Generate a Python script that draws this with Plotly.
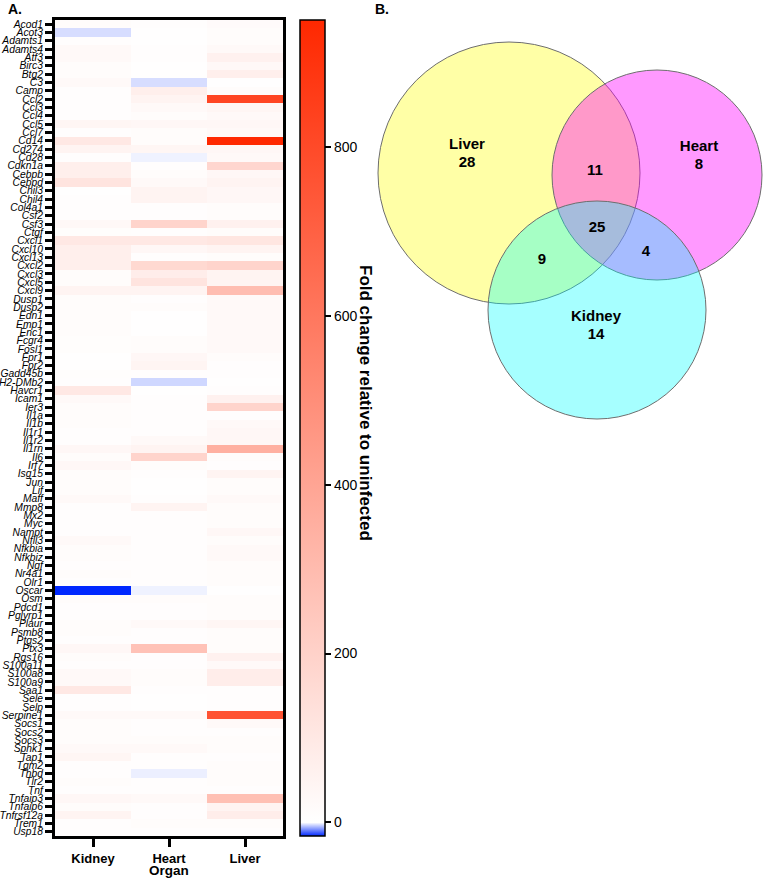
import plotly.graph_objects as go

genes = ["Acod1", "Acot3", "Adamts1", "Adamts4", "Atf3", "Birc3", "Btg2", "C3", "Camp", "Ccl2",
         "Ccl3", "Ccl4", "Ccl5", "Ccl7", "Cd14", "Cd274", "Cd28", "Cdkn1a", "Cebpb", "Cebpd",
         "Chil3", "Chil4", "Col4a1", "Csf2", "Csf3", "Ctgf", "Cxcl1", "Cxcl10", "Cxcl13", "Cxcl2",
         "Cxcl3", "Cxcl5", "Cxcl9", "Dusp1", "Dusp2", "Edn1", "Emp1", "Enc1", "Fcgr4", "Fosl1",
         "Fpr1", "Fpr2", "Gadd45b", "H2-DMb2", "Havcr1", "Icam1", "Ier3", "Il1a", "Il1b", "Il1r1",
         "Il1r2", "Il1rn", "Il6", "Irf7", "Isg15", "Jun", "Lif", "Maff", "Mmp8", "Mx2",
         "Myc", "Nampt", "Nfil3", "Nfkbia", "Nfkbiz", "Ngf", "Nr4a1", "Olr1", "Oscar", "Osm",
         "Pdcd1", "Pglyrp1", "Plaur", "Psmb8", "Ptgs2", "Ptx3", "Rgs16", "S100a11", "S100a8", "S100a9",
         "Saa1", "Sele", "Selp", "Serpine1", "Socs1", "Socs2", "Socs3", "Sphk1", "Tap1", "Tgm2",
         "Thbd", "Tlr2", "Tnf", "Tnfaip3", "Tnfaip6", "Tnfrsf12a", "Trem1", "Usp18"]

organs = ["Kidney", "Heart", "Liver"]

kidney = [15, -2.5, 8, 25, 25, 15, 15, 25, 8, 8,
          8, 8, 40, 8, 100, 50, 8, 70, 70, 120,
          5, 8, 8, 8, 30, 10, 100, 70, 70, 70,
          15, 15, 50, 15, 15, 15, 15, 15, 10, 10,
          5, 5, 10, 8, 100, 25, 15, 15, 15, 8,
          8, 35, 15, 35, 15, 15, 15, 25, 8, 8,
          8, 8, 25, 15, 15, 8, 15, 8, -16, 15,
          8, 8, 15, 15, 8, 35, 15, 8, 25, 25,
          100, 8, 8, 25, 15, 15, 15, 25, 40, 8,
          8, 15, 8, 35, 15, 50, 8, 8]

heart = [8, 5, 5, 8, 8, 5, 5, -2.5, 70, 50,
         25, 15, 35, 15, 15, 40, -1, 8, 15, 25,
         50, 50, 8, 8, 190, 8, 100, 35, 8, 170,
         80, 120, 50, 8, 15, 5, 5, 5, 15, 15,
         35, 45, 8, -3, 5, 8, 8, 8, 8, 8,
         25, 50, 190, 15, 8, 5, 5, 8, 50, 8,
         8, 8, 8, 8, 8, 8, 8, 8, -1, 15,
         8, 8, 25, 8, 8, 270, 8, 8, 15, 15,
         8, 5, 5, 25, 8, 8, 15, 25, 8, 8,
         -1.2, 8, 8, 25, 8, 8, 15, 8]

liver = [20, 15, 15, 25, 60, 30, 70, 5, 15, 820,
         40, 25, 35, 25, 945, 35, 25, 180, 35, 50,
         35, 35, 15, 15, 60, 15, 110, 50, 15, 190,
         50, 50, 290, 25, 25, 25, 25, 25, 25, 25,
         15, 8, 8, 5, 8, 60, 190, 8, 25, 35,
         35, 350, 15, 8, 50, 15, 15, 25, 15, 15,
         15, 35, 15, 25, 25, 15, 15, 15, 5, 15,
         15, 15, 40, 15, 15, 15, 60, 25, 80, 80,
         8, 8, 8, 760, 25, 8, 15, 15, 8, 15,
         15, 15, 8, 280, 50, 80, 15, 8]

cbar_ticks = [0, 200, 400, 600, 800]
zmin, zmax = -16, 950

venn_names = ["Liver", "Heart", "Kidney"]
venn_only = [28, 8, 14]
venn_shared_labels = ["11", "25", "9", "4"]

W, H = 763, 878
FONT = "Liberation Sans, Arial, Helvetica, sans-serif"

z = [[kidney[i], heart[i], liver[i]] for i in range(len(genes))]
p0 = (0 - zmin) / (zmax - zmin)

fig = go.Figure()
fig.add_trace(go.Heatmap(
    z=z, x=organs, y=genes, zmin=zmin, zmax=zmax,
    colorscale=[[0, "rgb(0,40,255)"], [p0, "rgb(255,255,255)"], [1, "rgb(255,40,0)"]],
    colorbar=dict(
        x=300 / W, xanchor="left", y=(H - 836) / H, yanchor="bottom",
        len=816 / H, lenmode="fraction", thickness=25, thicknessmode="pixels",
        xpad=0, ypad=0, outlinewidth=1.5, outlinecolor="black",
        ticks="outside", ticklen=6, tickwidth=1.5, tickcolor="black",
        tickvals=cbar_ticks, tickfont=dict(size=14, color="black", family=FONT),
    ),
))

# heatmap axes
fig.update_layout(
    xaxis=dict(domain=[55 / W, 283 / W], automargin=False, showline=True, linewidth=3,
               linecolor="black", mirror=True, ticks="outside", ticklen=8, tickwidth=3,
               tickcolor="black", tickfont=dict(size=13, color="black", family=FONT, weight="bold"),
               title=dict(text="<b>Organ</b>", font=dict(size=13.5, color="black", family=FONT),
                          standoff=1)),
    yaxis=dict(domain=[(H - 836) / H, (H - 20) / H], automargin=False, autorange="reversed",
               showline=True, linewidth=3, linecolor="black", mirror=True, ticks="outside",
               ticklen=7, tickwidth=2.5, tickcolor="black", dtick=1, ticklabelstandoff=0,
               tickfont=dict(size=10.3, color="black", family=FONT, style="italic")),
    xaxis2=dict(domain=[370 / W, 1], range=[370, W], visible=False, anchor="y2"),
    yaxis2=dict(domain=[0, 1], range=[H, 0], visible=False, anchor="x2"),
)

# venn circles (drawn in pixel-like coordinates)
circles = [
    dict(cx=509, cy=173, r=131, fill="rgba(255,255,0,0.35)"),
    dict(cx=657, cy=175, r=105, fill="rgba(255,0,255,0.4)"),
    dict(cx=597, cy=310, r=109, fill="rgba(0,255,255,0.35)"),
]
for c in circles:
    fig.add_shape(type="circle", xref="x2", yref="y2", layer="below",
                  x0=c["cx"] - c["r"], x1=c["cx"] + c["r"],
                  y0=c["cy"] - c["r"], y1=c["cy"] + c["r"],
                  fillcolor=c["fill"], line=dict(color="rgb(110,110,110)", width=1))

name_pos = [(467, 145), (699, 147), (596, 317)]
count_pos = [(467, 163), (699, 165), (596, 335)]
shared_pos = [(595, 171), (597, 228), (542, 260), (646, 252)]

fig.add_trace(go.Scatter(
    x=[p[0] for p in name_pos] + [p[0] for p in count_pos] + [p[0] for p in shared_pos],
    y=[p[1] for p in name_pos] + [p[1] for p in count_pos] + [p[1] for p in shared_pos],
    text=[f"<b>{n}</b>" for n in venn_names] + [f"<b>{v}</b>" for v in venn_only]
         + [f"<b>{s}</b>" for s in venn_shared_labels],
    mode="text", xaxis="x2", yaxis="y2", hoverinfo="skip", showlegend=False,
    textfont=dict(size=15, color="black", family=FONT),
))

fig.add_annotation(text="<b>Fold change relative to uninfected</b>", xref="paper", yref="paper",
                   x=366 / W, y=1 - 403 / H, textangle=90, showarrow=False,
                   font=dict(size=17, color="black", family=FONT))
fig.add_annotation(text="<b>A.</b>", xref="paper", yref="paper", x=6 / W, y=1 - 9 / H,
                   xanchor="left", yanchor="middle", showarrow=False,
                   font=dict(size=14, color="black", family=FONT))
fig.add_annotation(text="<b>B.</b>", xref="paper", yref="paper", x=373 / W, y=1 - 9 / H,
                   xanchor="left", yanchor="middle", showarrow=False,
                   font=dict(size=14, color="black", family=FONT))

fig.update_layout(width=W, height=H, margin=dict(l=0, r=0, t=0, b=0),
                  paper_bgcolor="white", plot_bgcolor="white", showlegend=False,
                  font=dict(family=FONT, color="black"))

fig.write_html("out.html", config={"displayModeBar": False},
               post_script="document.body.style.margin='0px';")
